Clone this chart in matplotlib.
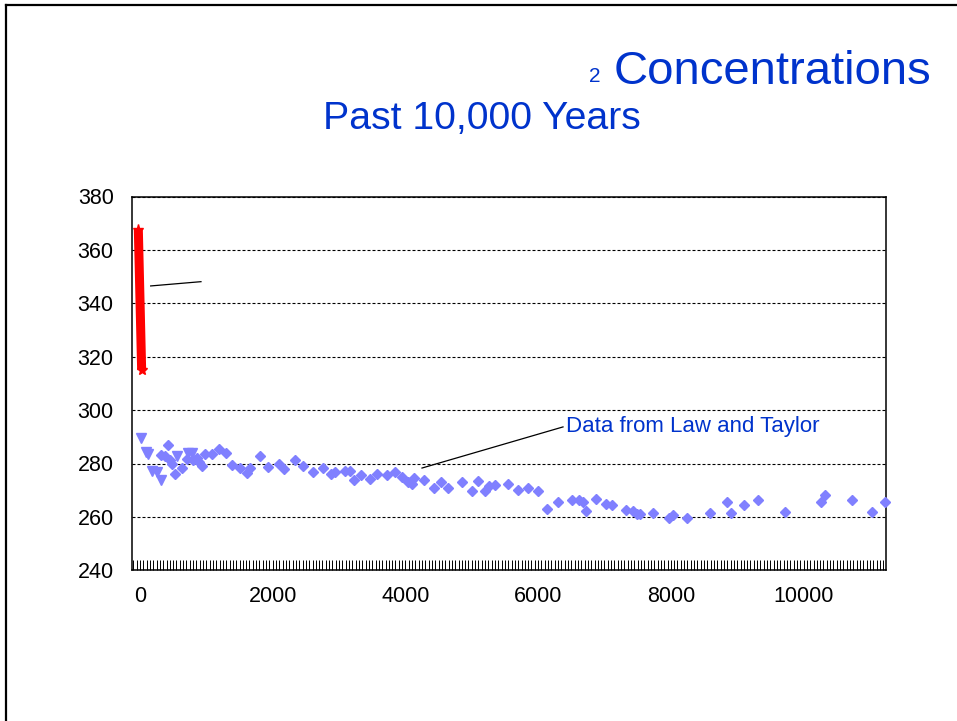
import numpy as np
import matplotlib.pyplot as plt
from matplotlib.lines import Line2D
from matplotlib.ticker import MultipleLocator

plt.rcParams['font.family'] = ['Liberation Sans', 'DejaVu Sans']

# ---- data: years before present vs CO2 (ppm) ----
# instrumental record (thick red segment)
recent_years = [-25, 25]
recent_co2 = [367.5, 315]

# ice core values, first group (triangles)
tri_years = [10, 90, 125, 176, 252, 321, 562, 728, 779]
tri_co2 = [289.4, 284.4, 283.4, 277.3, 276.9, 274.0, 282.8, 283.8, 283.8]

# ice core values, Law and Taylor (diamonds)
dia_years = [316, 377, 417, 452, 478, 527, 637, 704, 803, 854, 889, 930, 980,
             1090, 1195, 1292, 1391, 1507, 1608, 1658, 1808, 1934, 2095, 2175,
             2336, 2452, 2603, 2753, 2874, 2939, 3089, 3165, 3225, 3326, 3466,
             3576, 3718, 3843, 3944, 4043, 4095, 4134, 4280, 4431, 4532, 4646,
             4848, 4999, 5098, 5199, 5264, 5350, 5541, 5701, 5852, 6002, 6138,
             6304, 6506, 6620, 6681, 6717, 6872, 7023, 7118, 7324, 7425, 7485,
             7535, 7736, 7977, 8037, 8239, 8590, 8842, 8902, 9102, 9309, 9720,
             10258, 10323, 10725, 11036, 11227]
dia_co2 = [283.3, 282.8, 286.8, 281.3, 280.0, 275.9, 278.4, 281.5, 281.3, 281.9,
           280.6, 279.0, 283.4, 283.4, 285.3, 283.8, 279.4, 278.4, 276.5, 278.2,
           282.8, 278.8, 279.7, 278.0, 281.3, 279.1, 276.7, 278.2, 275.9, 276.7,
           277.1, 277.1, 273.8, 275.6, 274.1, 275.9, 275.6, 276.7, 274.8, 273.1,
           272.3, 274.4, 274.0, 271.0, 273.1, 270.9, 272.9, 269.8, 273.5, 269.6,
           271.5, 271.9, 272.5, 270.0, 270.7, 269.8, 263.1, 265.6, 266.5, 266.3,
           265.6, 262.2, 266.6, 265.0, 264.6, 262.5, 262.1, 260.9, 260.9, 261.3,
           259.6, 260.6, 259.6, 261.3, 265.4, 261.3, 264.4, 266.5, 261.9, 265.6,
           268.1, 266.5, 261.9, 265.4]

x_ticks = [0, 2000, 4000, 6000, 8000, 10000]
y_ticks = [240, 260, 280, 300, 320, 340, 360, 380]

blue = '#0033CC'
marker_blue = '#8080FF'

W, H = 957, 721
fig = plt.figure(figsize=(W / 100, H / 100), dpi=100)
fig.patch.set_facecolor('white')

# slide frame (top and left edges)
fig.add_artist(Line2D([6 / W, 1], [1 - 5 / H, 1 - 5 / H], color='black', lw=1.6))
fig.add_artist(Line2D([6 / W, 6 / W], [0, 1 - 5 / H], color='black', lw=1.6))

# titles
fig.text(589 / W, 1 - 82 / H, '2', fontsize=15, color=blue, va='baseline', ha='left')
fig.text(614 / W, 1 - 84 / H, 'Concentrations', fontsize=34, color=blue, va='baseline', ha='left')
fig.text(323 / W, 1 - 129 / H, 'Past 10,000 Years', fontsize=28.3, color=blue, va='baseline', ha='left')

ax = fig.add_axes([131.7 / W, 1 - 570.3 / H, (885.7 - 131.7) / W, (570.3 - 196.5) / H])
ax.set_xlim(-125, 11238)
ax.set_ylim(240, 380)

for s in ax.spines.values():
    s.set_linewidth(1.1)
    s.set_color('black')

ax.set_xticks(x_ticks)
ax.set_yticks(y_ticks)
ax.xaxis.set_minor_locator(MultipleLocator(50))
ax.tick_params(axis='x', which='both', direction='in', length=7.2, width=0.7,
               labelsize=15.5, pad=11)
ax.tick_params(axis='y', which='both', length=0, labelsize=15.5, pad=13)

ax.yaxis.grid(True, color='black', lw=0.8, linestyle=(0, (2.7, 1.8)))
ax.set_axisbelow(True)

ax.plot(recent_years, recent_co2, color='#FF0000', lw=6.5, marker='*', ms=8,
        solid_capstyle='butt', zorder=4, clip_on=False)
ax.plot(tri_years, tri_co2, linestyle='none', marker='v', ms=7.5,
        color=marker_blue, zorder=3, clip_on=False)
ax.plot(dia_years, dia_co2, linestyle='none', marker='D', ms=5.2,
        color=marker_blue, zorder=3, clip_on=False)

# leader lines and label
ax.plot([161, 919], [346.5, 348.1], color='black', lw=0.9)
ax.plot([4250, 6375], [278.3, 293.7], color='black', lw=0.9)
ax.text(6420, 293.9, 'Data from Law and Taylor', fontsize=16, color=blue,
        va='center', ha='left')

fig.savefig('out.png', dpi=100, facecolor='white')
